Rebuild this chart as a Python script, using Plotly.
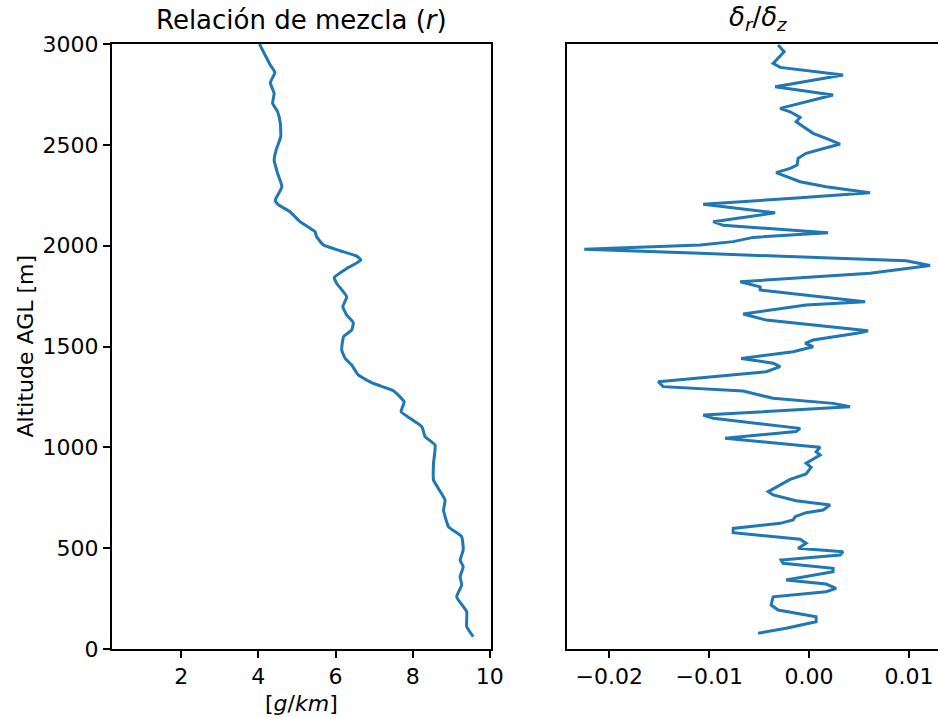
import plotly.graph_objects as go

# Mixing-ratio profile: altitude AGL [m] and r [g/km]
alt_r = [3000, 2896, 2859, 2808, 2755, 2706, 2664, 2606, 2540, 2474, 2424, 2358,
         2292, 2226, 2206, 2168, 2119, 2069, 2044, 2003, 1975, 1948, 1928, 1887,
         1843, 1813, 1747, 1697, 1656, 1618, 1582, 1549, 1483, 1441, 1408, 1359,
         1317, 1281, 1226, 1177, 1144, 1102, 1053, 1011, 921, 838, 739, 689, 606,
         557, 491, 441, 408, 359, 317, 259, 185, 111, 61]
r_vals = [4.03, 4.31, 4.43, 4.31, 4.41, 4.37, 4.50, 4.57, 4.58, 4.46, 4.41, 4.50,
          4.61, 4.44, 4.50, 4.82, 5.08, 5.47, 5.51, 5.69, 6.12, 6.55, 6.66, 6.29,
          5.97, 6.03, 6.29, 6.19, 6.29, 6.46, 6.42, 6.21, 6.16, 6.25, 6.42, 6.59,
          6.98, 7.50, 7.78, 7.70, 7.93, 8.24, 8.32, 8.58, 8.54, 8.54, 8.84, 8.80,
          8.93, 9.27, 9.31, 9.23, 9.31, 9.23, 9.27, 9.14, 9.40, 9.40, 9.57]

# Vertical gradient dr/dz
alt_d = [2995, 2962, 2904, 2884, 2846, 2788, 2747, 2681, 2664, 2648, 2636, 2615,
         2557, 2532, 2504, 2458, 2433, 2400, 2383, 2362, 2317, 2292, 2262, 2235,
         2205, 2163, 2119, 2101, 2064, 2041, 2020, 2003, 1982, 1962, 1925, 1902,
         1863, 1821, 1796, 1780, 1722, 1706, 1661, 1631, 1578, 1568, 1532, 1516,
         1499, 1474, 1441, 1417, 1400, 1375, 1325, 1301, 1279, 1243, 1218, 1201,
         1160, 1144, 1094, 1078, 1045, 1007, 1000, 978, 962, 921, 901, 868, 841,
         780, 764, 735, 714, 689, 676, 656, 640, 623, 598, 577, 544, 524, 499,
         482, 466, 441, 425, 400, 383, 342, 322, 301, 284, 259, 218, 193, 160,
         135, 103, 78]
d_vals = [-0.0031, -0.0025, -0.0036, -0.0029, 0.0034, -0.0034, 0.0024, -0.0029,
          -0.0019, -0.0013, -0.0009, -0.0013, 0.0004, 0.0017, 0.0031, -0.0003,
          -0.0011, -0.0012, -0.0019, -0.0033, -0.0009, 0.0017, 0.0061, -0.0016,
          -0.0106, -0.0034, -0.0096, -0.0086, 0.0019, -0.0056, -0.0076, -0.0109,
          -0.0225, -0.0109, 0.0097, 0.0121, 0.0061, -0.0069, -0.0049, -0.0049,
          0.0056, -0.0003, -0.0066, -0.0043, 0.0059, 0.0051, 0.0004, -0.0004,
          0.0004, -0.0016, -0.0068, -0.0036, -0.0029, -0.0043, -0.0151, -0.0146,
          -0.0066, -0.0036, 0.0024, 0.0041, -0.0106, -0.0096, -0.0009, -0.0013,
          -0.0084, -0.0003, 0.0011, 0.0007, 0.0011, -0.0003, 0.0002, -0.0003,
          -0.0019, -0.0041, -0.0036, -0.0013, 0.0021, 0.0014, -0.0003, -0.0014,
          -0.0016, -0.0029, -0.0076, -0.0076, -0.0009, -0.0003, -0.0011, 0.0034,
          0.0031, -0.0028, -0.0026, 0.0024, 0.0024, -0.0023, 0.0017, 0.0027,
          0.0017, -0.0036, -0.0038, -0.0031, 0.0007, 0.0007, -0.0023, -0.0051]

y_ticks = [0, 500, 1000, 1500, 2000, 2500, 3000]
x1_ticks = [2, 4, 6, 8, 10]
x2_ticks = [-0.02, -0.01, 0.00, 0.01]

W, H = 938, 717
BLUE = "#1f77b4"
FONT = "DejaVu Sans"
TICK_SIZE = 22
LABEL_SIZE = 22
TITLE_SIZE = 26

fig = go.Figure()
fig.add_trace(go.Scatter(x=r_vals, y=alt_r, mode="lines",
                         line=dict(color=BLUE, width=3, shape="spline",
                                   smoothing=0.4),
                         xaxis="x", yaxis="y", showlegend=False))
fig.add_trace(go.Scatter(x=d_vals, y=alt_d, mode="lines",
                         line=dict(color=BLUE, width=3), xaxis="x2", yaxis="y2",
                         showlegend=False))

# panel boxes in pixels
L1, R1 = 111.7, 491.0
L2 = 567.3
TOP, BOT = 44.0, 649.0


def px(x):
    return x / W


def py(y):
    return (H - y) / H


axis_common = dict(showgrid=False, zeroline=False, showline=True,
                   automargin=False,
                   linecolor="black", linewidth=1.6, ticks="outside",
                   ticklen=7, tickwidth=1.6, tickcolor="black",
                   tickfont=dict(family=FONT, size=TICK_SIZE, color="black"))

fig.update_layout(
    width=W, height=H,
    margin=dict(l=0, r=0, t=0, b=0),
    paper_bgcolor="white", plot_bgcolor="white",
    font=dict(family=FONT, size=TICK_SIZE, color="black"),
    xaxis=dict(domain=[px(L1), px(R1)], range=[0.2, 10.03],
               tickvals=x1_ticks, mirror=True, anchor="y", **axis_common),
    yaxis=dict(domain=[py(BOT), py(TOP)], range=[0, 3000],
               tickvals=y_ticks, mirror=True, anchor="x", **axis_common),
    xaxis2=dict(domain=[px(L2), 1.0], range=[-0.0242, 0.0129],
                tickvals=x2_ticks, tickformat=".2f", mirror=True,
                anchor="y2", **axis_common),
    yaxis2=dict(domain=[py(BOT), py(TOP)], range=[0, 3000],
                showticklabels=False, anchor="x2",
                **{**axis_common, "ticks": ""}),
    annotations=[
        dict(text="Relación de mezcla (<i>r</i>)", x=px((L1 + R1) / 2),
             y=py(37), xref="paper", yref="paper", xanchor="center",
             yanchor="bottom", showarrow=False,
             font=dict(family=FONT, size=TITLE_SIZE, color="black")),
        dict(text="<i>δ<sub>r</sub></i>/<i>δ<sub>z</sub></i>", x=px(757.5),
             y=py(37), xref="paper", yref="paper", xanchor="center",
             yanchor="bottom", showarrow=False,
             font=dict(family=FONT, size=TITLE_SIZE, color="black")),
        dict(text="[<i>g</i>/<i>km</i>]", x=px((L1 + R1) / 2), y=py(689),
             xref="paper", yref="paper", xanchor="center", yanchor="top",
             showarrow=False,
             font=dict(family=FONT, size=LABEL_SIZE, color="black")),
        dict(text="Altitude AGL [m]", x=px(25), y=py((TOP + BOT) / 2),
             xref="paper", yref="paper", xanchor="center", yanchor="middle",
             textangle=-90, showarrow=False,
             font=dict(family=FONT, size=LABEL_SIZE, color="black")),
    ],
)

fig.write_html("out.html")
